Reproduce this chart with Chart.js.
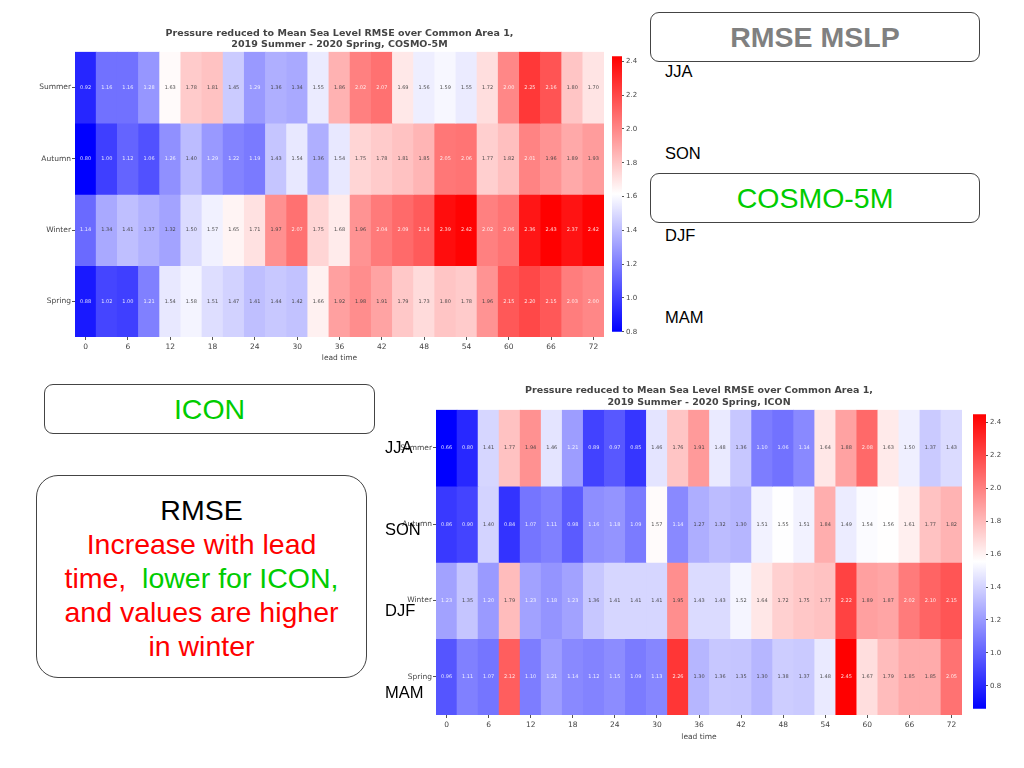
<!DOCTYPE html>
<html><head><meta charset="utf-8">
<script src="https://cdn.jsdelivr.net/npm/chart.js@4.4.1/dist/chart.umd.min.js"></script>
<style>
body{margin:0;width:1024px;height:768px;background:#fff;position:relative;overflow:hidden;font-family:"Liberation Sans",Arial,sans-serif;}
canvas{position:absolute}
.box{position:absolute;border:1px solid #444;border-radius:9px;box-sizing:border-box;display:flex;align-items:center;justify-content:center;font-size:28.5px;}
.lbl{position:absolute;font-size:16.5px;color:#000;line-height:16px;}
.big{position:absolute;left:36px;top:475px;width:331px;height:203px;border:1px solid #444;border-radius:22px;box-sizing:border-box;text-align:center;font-size:28.5px;line-height:34px;padding-top:17px;color:#ff0000;}
</style></head><body>

<div class="box" style="left:650px;top:12px;width:330px;height:50px;color:#808080;font-weight:bold;">RMSE MSLP</div>
<div class="box" style="left:650px;top:173px;width:330px;height:50px;color:#00cc00;">COSMO-5M</div>
<div class="box" style="left:44px;top:384px;width:331px;height:50px;color:#00cc00;">ICON</div>
<div class="big"><span style="color:#000">RMSE</span><br>Increase with lead<br>time,&nbsp; <span style="color:#00cc00">lower for ICON,</span><br>and values are higher<br>in winter</div>

<canvas id="c1" width="610" height="345" style="left:0;top:20px;width:610px;height:345px"></canvas>
<canvas id="cb1" width="40" height="288" style="left:612px;top:50px;width:40px;height:288px"></canvas>
<canvas id="c2" width="590" height="369" style="left:380px;top:375px;width:590px;height:369px"></canvas>
<canvas id="cb2" width="45" height="307" style="left:973px;top:408px;width:45px;height:307px"></canvas>

<div class="lbl" style="left:665px;top:63px">JJA</div>
<div class="lbl" style="left:665px;top:145px">SON</div>
<div class="lbl" style="left:665px;top:227px">DJF</div>
<div class="lbl" style="left:665px;top:309px">MAM</div>
<div class="lbl" style="left:385px;top:439px">JJA</div>
<div class="lbl" style="left:385px;top:521px">SON</div>
<div class="lbl" style="left:385px;top:602px">DJF</div>
<div class="lbl" style="left:385px;top:684px">MAM</div>

<script>
const leadTimes = [0,3,6,9,12,15,18,21,24,27,30,33,36,39,42,45,48,51,54,57,60,63,66,69,72];
const seasons = ['Summer','Autumn','Winter','Spring'];

// COSMO-5M RMSE (hPa)
const cosmoSummer = [0.92,1.16,1.16,1.28,1.63,1.78,1.81,1.45,1.29,1.36,1.34,1.55,1.86,2.02,2.07,1.69,1.56,1.59,1.55,1.72,2.00,2.25,2.16,1.80,1.70];
const cosmoAutumn = [0.80,1.00,1.12,1.06,1.26,1.40,1.29,1.22,1.19,1.43,1.54,1.36,1.54,1.75,1.78,1.81,1.85,2.05,2.06,1.77,1.82,2.01,1.96,1.89,1.93];
const cosmoWinter = [1.14,1.34,1.41,1.37,1.32,1.50,1.57,1.65,1.71,1.97,2.07,1.75,1.68,1.96,2.04,2.09,2.14,2.39,2.42,2.02,2.06,2.36,2.43,2.37,2.42];
const cosmoSpring = [0.88,1.02,1.00,1.21,1.54,1.58,1.51,1.47,1.41,1.44,1.42,1.66,1.92,1.98,1.91,1.79,1.73,1.80,1.78,1.96,2.15,2.20,2.15,2.03,2.00];

// ICON RMSE (hPa)
const iconSummer = [0.66,0.80,1.41,1.77,1.94,1.46,1.21,0.89,0.97,0.85,1.46,1.76,1.91,1.48,1.36,1.10,1.06,1.14,1.64,1.88,2.08,1.63,1.50,1.37,1.43];
const iconAutumn = [0.86,0.90,1.40,0.84,1.07,1.11,0.98,1.16,1.18,1.09,1.57,1.14,1.27,1.32,1.30,1.51,1.55,1.51,1.84,1.49,1.54,1.56,1.61,1.77,1.82];
const iconWinter = [1.23,1.35,1.20,1.79,1.23,1.18,1.23,1.36,1.41,1.41,1.41,1.95,1.43,1.43,1.52,1.64,1.72,1.75,1.77,2.22,1.89,1.87,2.02,2.10,2.15];
const iconSpring = [0.96,1.11,1.07,2.12,1.10,1.21,1.14,1.12,1.15,1.09,1.13,2.26,1.30,1.36,1.35,1.30,1.38,1.37,1.48,2.45,1.67,1.79,1.85,1.85,2.05];

const cosmoRange = [0.80, 2.43];
const iconRange = [0.66, 2.45];

const cosmoTitle = ['Pressure reduced to Mean Sea Level RMSE over Common Area 1,', '2019 Summer - 2020 Spring, COSMO-5M'];
const iconTitle = ['Pressure reduced to Mean Sea Level RMSE over Common Area 1,', '2019 Summer - 2020 Spring, ICON'];

const FONT = 'DejaVu Sans';
const TXT = '#444';

function bwr(v, lo, hi){
  let t = (v - lo) / (hi - lo);
  t = Math.max(0, Math.min(1, t));
  let r,g,b;
  if (t < 0.5){ const s = t/0.5; r = 255*s; g = 255*s; b = 255; }
  else { const s = (t-0.5)/0.5; r = 255; g = 255*(1-s); b = 255*(1-s); }
  return [Math.round(r),Math.round(g),Math.round(b)];
}
function lum(c){
  const f = x => { x/=255; return x <= 0.03928 ? x/12.92 : Math.pow((x+0.055)/1.055, 2.4); };
  return 0.2126*f(c[0]) + 0.7152*f(c[1]) + 0.0722*f(c[2]);
}

const annot = {
  id:'annot',
  afterDatasetsDraw(chart, args, opts){
    const ctx = chart.ctx;
    ctx.save();
    ctx.font = opts.size + 'px "' + FONT + '"';
    ctx.textAlign = 'center'; ctx.textBaseline = 'middle';
    chart.data.datasets.forEach((ds, di) => {
      const meta = chart.getDatasetMeta(di);
      meta.data.forEach((el, j) => {
        const v = ds.vals[j];
        const c = bwr(v, opts.lo, opts.hi);
        ctx.fillStyle = lum(c) > 0.408 ? 'rgba(60,60,60,0.9)' : 'rgba(255,255,255,0.85)';
        ctx.fillText(v.toFixed(2), el.x, (el.y + el.base)/2);
      });
    });
    ctx.restore();
  }
};

function heatmap(id, rows, range, title, cfg){
  const datasets = rows.map((vals, i) => ({
    data: vals.map(() => [i, i+1]),
    vals: vals,
    backgroundColor: vals.map(v => { const c = bwr(v, range[0], range[1]); return `rgb(${c[0]},${c[1]},${c[2]})`; }),
    borderWidth: 0,
    barPercentage: 1,
    categoryPercentage: 1,
    grouped: false
  }));
  return new Chart(document.getElementById(id), {
    type: 'bar',
    data: { labels: leadTimes.map(String), datasets },
    options: {
      responsive: false, animation: false,
      layout: { padding: cfg.padding },
      plugins: {
        legend: { display: false }, tooltip: { enabled: false },
        title: { display: true, text: title, fullSize: false, color: TXT,
          font: { family: FONT, size: cfg.titleSize, weight: 'bold', lineHeight: cfg.titleLH },
          padding: { top: 0, bottom: cfg.titleGap } },
        annot: { lo: range[0], hi: range[1], size: cfg.annotSize }
      },
      scales: {
        x: {
          type: 'category', offset: true,
          grid: { drawOnChartArea: false, drawTicks: true, tickLength: 3, offset: false,
                  color: c => (leadTimes[c.index] % 6 === 0 ? '#555' : 'rgba(0,0,0,0)') },
          border: { display: false },
          ticks: { autoSkip: false, maxRotation: 0, padding: cfg.xPad, color: TXT,
                   font: { family: FONT, size: cfg.tickSize },
                   callback: (v, i) => (leadTimes[i] % 6 === 0 ? String(leadTimes[i]) : '') },
          title: { display: true, text: 'lead time', color: TXT, padding: 0,
                   font: { family: FONT, size: cfg.tickSize } },
          afterFit: s => { s.height = cfg.xH; }
        },
        y: {
          type: 'linear', reverse: true, min: 0, max: 4,
          afterBuildTicks: s => { s.ticks = [0.5,1.5,2.5,3.5].map(v => ({ value: v })); },
          grid: { drawOnChartArea: false, drawTicks: true, tickLength: 3, color: '#555' },
          border: { display: false },
          ticks: { padding: 1, color: TXT, font: { family: FONT, size: cfg.tickSize },
                   callback: v => seasons[Math.floor(v)] },
          afterFit: s => { s.width = cfg.yW; }
        }
      }
    },
    plugins: [annot]
  });
}

function colorbar(id, range, cfg){
  return new Chart(document.getElementById(id), {
    type: 'bar',
    data: { labels: [''], datasets: [{
      data: [[range[0], range[1]]], barPercentage: 1, categoryPercentage: 1, borderWidth: 0,
      backgroundColor: c => {
        const ca = c.chart.chartArea; if (!ca) return '#fff';
        const g = c.chart.ctx.createLinearGradient(0, ca.bottom, 0, ca.top);
        g.addColorStop(0, 'rgb(0,0,255)'); g.addColorStop(0.5, 'rgb(255,255,255)'); g.addColorStop(1, 'rgb(255,0,0)');
        return g;
      } }] },
    options: {
      responsive: false, animation: false,
      layout: { padding: { top: 5, bottom: 5, left: 0, right: 0 } },
      plugins: { legend: { display: false }, tooltip: { enabled: false } },
      scales: {
        x: { display: false },
        y: { position: 'right', min: range[0], max: range[1],
             grid: { drawOnChartArea: false, drawTicks: true, tickLength: 2, color: '#555' },
             border: { display: false },
             ticks: { stepSize: 0.2, includeBounds: false, padding: 2, color: TXT,
                      font: { family: FONT, size: cfg.size } },
             afterFit: s => { s.width = cfg.w; } }
      }
    }
  });
}

heatmap('c1', [cosmoSummer, cosmoAutumn, cosmoWinter, cosmoSpring], cosmoRange, cosmoTitle,
  { padding: { top: 8, right: 6, bottom: 2, left: 0 }, titleSize: 9.5, titleLH: 1.15, titleGap: 2,
    annotSize: 5, tickSize: 7.5, xPad: 3, xH: 26, yW: 75 });
colorbar('cb1', cosmoRange, { size: 7, w: 30 });

heatmap('c2', [iconSummer, iconAutumn, iconWinter, iconSpring], iconRange, iconTitle,
  { padding: { top: 10, right: 8, bottom: 2, left: 0 }, titleSize: 9.5, titleLH: 1.25, titleGap: 1,
    annotSize: 5, tickSize: 7.5, xPad: 3, xH: 27, yW: 56 });
colorbar('cb2', iconRange, { size: 7, w: 32 });
</script>
</body></html>
